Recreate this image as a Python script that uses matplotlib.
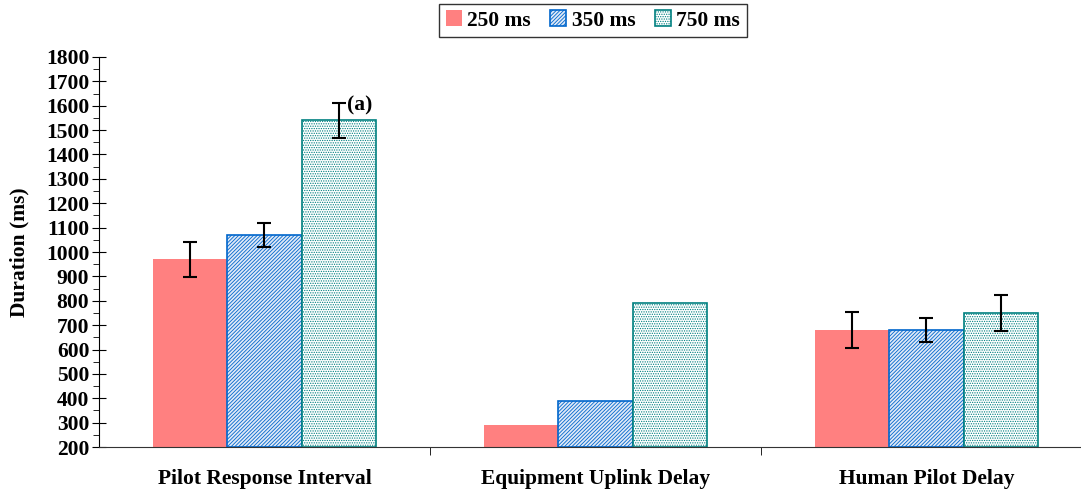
import numpy as np
import matplotlib
matplotlib.use('Agg')
from matplotlib import pyplot as plt
from matplotlib.ticker import MultipleLocator

categories = ['Pilot Response Interval', 'Equipment Uplink Delay', 'Human Pilot Delay']
series = ['250 ms', '350 ms', '750 ms']
d250 = [970, 290, 680]
d350 = [1070, 390, 680]
d750 = [1540, 790, 750]
e250 = [73, 0, 74]
e350 = [50, 0, 49]
e750 = [73, 0, 73]

plt.rcParams['font.family'] = ['Liberation Serif', 'DejaVu Serif']
plt.rcParams['font.weight'] = 'bold'
plt.rcParams['hatch.linewidth'] = 0.6

fs = 15.5
fig = plt.figure(figsize=(10.81, 4.94), dpi=100)
ax = fig.add_axes([99/1081, 47/494, 982/1081, 390/494])

x = np.arange(len(categories))
w = 0.224
styles = [
    dict(color='#ff8080', edgecolor='none', linewidth=0),
    dict(facecolor='#dfe9f7', edgecolor='#0066cc', hatch='/////////', linewidth=1.2),
    dict(facecolor='white', edgecolor='#008080', hatch='.......', linewidth=1.2),
]
vals = [d250, d350, d750]
errs = [e250, e350, e750]
for i in range(3):
    pos = x + (i - 1) * w
    ax.bar(pos, np.array(vals[i]) - 200, w, bottom=200, label=series[i], **styles[i])
    m = np.array(errs[i]) > 0
    ax.errorbar(pos[m], np.array(vals[i])[m], yerr=np.array(errs[i])[m], fmt='none',
                ecolor='black', elinewidth=1.5, capsize=5, capthick=1.5)

ax.text(0.25, 1603, '(a)', fontsize=fs, fontweight='bold', va='center')

ax.set_xlim(-0.5, 2.467)
ax.set_ylim(200, 1800)
ax.yaxis.set_major_locator(MultipleLocator(100))
ax.yaxis.set_minor_locator(MultipleLocator(50))
ax.tick_params(axis='y', which='major', direction='inout', length=10, labelsize=fs, pad=2)
ax.tick_params(axis='y', which='minor', direction='out', length=4)
ax.set_xticks(x)
ax.set_xticklabels(categories, fontsize=fs, fontweight='bold')
ax.tick_params(axis='x', which='major', length=0, pad=16)
ax.set_xticks([0.5, 1.5], minor=True)
ax.tick_params(axis='x', which='minor', direction='out', length=6)
ax.set_ylabel('Duration (ms)', fontsize=fs, fontweight='bold', labelpad=12)
for s in ['top', 'right']:
    ax.spines[s].set_visible(False)
ax.spines['bottom'].set_color('#333333')

leg = ax.legend(loc='upper center', bbox_to_anchor=(0.503, 1.136), ncol=3, frameon=True,
                fancybox=False, edgecolor='black', fontsize=fs, handlelength=0.75,
                handleheight=0.75, handletextpad=0.25, columnspacing=0.9, borderpad=0.3,
                borderaxespad=0)
leg.get_frame().set_linewidth(1.0)

fig.savefig('out.png', dpi=100)
